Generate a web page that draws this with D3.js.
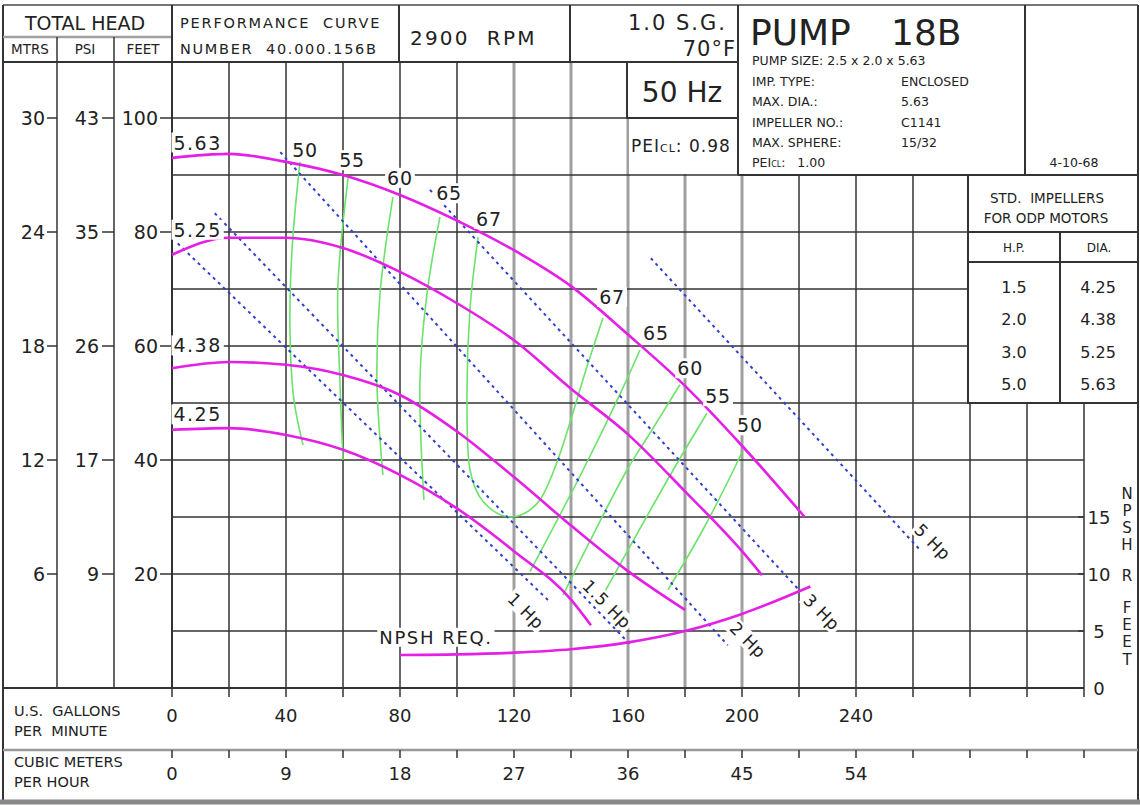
<!DOCTYPE html>
<html><head><meta charset="utf-8">
<script src="https://cdn.jsdelivr.net/npm/d3@7"></script>
<style>
body{margin:0;background:#fff;}
svg{display:block;font-family:"DejaVu Sans",Verdana,sans-serif;}
text{white-space:pre;fill:#222;}
</style></head><body>
<svg id="c" width="1140" height="805"></svg>
<script>
// ---------- data ----------
const gpmTicks = [0, 40, 80, 120, 160, 200, 240];
const m3hLabels = ["0", "9", "18", "27", "36", "45", "54"];
const feetTicks = [100, 80, 60, 40, 20];
const mtrsLabels = ["30", "24", "18", "12", "6"];
const psiLabels = ["43", "35", "26", "17", "9"];
const npshTicks = [0, 5, 10, 15];

// impeller head curves: [GPM, feet]
const dia563 = [[0,93],[20,93.7],[40,92.3],[60,90],[80,86.5],[100,82],[120,76.8],[140,70.5],[160,62],[180,53],[200,42.5],[222,30]];
const dia525 = [[0,76],[20,79],[40,79],[60,77.2],[80,73],[100,67.5],[120,61],[140,52.5],[160,44.5],[180,34.5],[200,24],[207,19.8]];
const dia438 = [[0,56.1],[20,57.2],[40,56.7],[60,54.9],[80,51.4],[100,45],[120,37],[140,28.5],[160,20.5],[180,13.7]];
const dia425 = [[0,45.3],[20,45.6],[40,44.4],[60,41.8],[80,37.4],[100,31.5],[120,24],[140,15.5],[147,11]];
const impellerNames = ["5.63", "5.25", "4.38", "4.25"];

// NPSH required: [GPM, feet NPSH]
const npshReq = [[80,2.9],[100,2.95],[120,3.1],[140,3.4],[160,4.0],[180,5.0],[200,6.5],[224,8.9]];

// efficiency contours: [GPM, feet]
const eff50L = [[44.9,92.3],[42.1,76.8],[41.4,62.8],[42.8,50.5],[46,42.6]];
const eff50R = [[200,41.4],[197,38.2],[186,27.5],[174,17.2]];
const eff55L = [[61.8,89.5],[58.2,70.4],[58.9,54],[60,40]];
const eff55R = [[187.7,48.2],[175.8,38.2],[150.2,15.4]];
const eff60L = [[77.5,86.1],[73,69.3],[71.9,54],[74,37.4]];
const eff60R = [[178.2,53.2],[167.7,44.7],[159.6,38.2],[137.2,16.3]];
const eff65L = [[94,82.6],[89.5,69.3],[87,54],[88.4,33]];
const eff65R = [[164.2,59.3],[157.9,52.3],[144.2,38.2],[125.6,20.4]];
const eff67 = [[107.4,79.1],[104.6,66.8],[103.5,50.5],[104.6,38.2],[108,33.5],[113.3,30.9],[118.6,30],[123.9,30.7],[129.1,33],[135,39.5],[146,57],[151.2,64.9]];
const effNames = ["50", "55", "60", "65", "67"];

// motor power lines: [GPM, feet] end points
const hp1 = [[2,78],[132,15.4]];
const hp15 = [[15,83.3],[161,7.5]];
const hp2 = [[38,94],[195,7.5]];
const hp3 = [[90.5,87.4],[220,17.2]];
const hp5 = [[168,75.4],[262.5,24.2]];
const hpNames = ["1 Hp", "1.5 Hp", "2 Hp", "3 Hp", "5 Hp"];

// standard impeller table
const tableHP = ["1.5", "2.0", "3.0", "5.0"];
const tableDia = ["4.25", "4.38", "5.25", "5.63"];

// ---------- scales ----------
const svg = d3.select("#c");
const x = d3.scaleLinear().domain([0, 320]).range([172, 1084]);
const y = d3.scaleLinear().domain([0, 100]).range([688, 118]);
const yN = d3.scaleLinear().domain([0, 25]).range([688, 403]);

const DARK = "#333", GREY = "#a0a0a0";
const MAG = "#e51fe5", GREEN = "#6be36b", BLUE = "#2f3fd0";

const gGrid = svg.append("g");
const gFrame = svg.append("g");
const gCurves = svg.append("g");
const gText = svg.append("g");

function ln(g, x1, y1, x2, y2, color, w) {
  g.append("line").attr("x1", x1).attr("y1", y1).attr("x2", x2).attr("y2", y2)
    .attr("stroke", color || DARK).attr("stroke-width", w || 1.5);
}
function txt(g, s, px, py, size, anchor, extra) {
  const t = g.append("text").attr("x", px).attr("y", py).attr("font-size", size)
    .attr("text-anchor", anchor || "start").text(s);
  if (extra) extra(t);
  return t;
}
function bgLabel(g, s, px, py, size, rot, ls) {
  const gg = g.append("g").attr("transform", `translate(${px},${py}) rotate(${rot || 0})`);
  const t = gg.append("text").attr("x", 0).attr("y", 0).attr("font-size", size)
    .attr("text-anchor", "middle").attr("dominant-baseline", "central").text(s);
  if (ls) t.attr("letter-spacing", ls);
  const b = t.node().getBBox();
  gg.insert("rect", "text").attr("x", b.x - 2).attr("y", b.y + 1).attr("width", b.width + 4)
    .attr("height", b.height - 2).attr("fill", "#fff");
  return gg;
}

// ---------- grid ----------
d3.range(20, 320, 20).forEach(gpm => {
  const px = x(gpm);
  const top = px < 738 ? 62 : (px < 968 ? 175 : 403);
  const grey = gpm >= 120 && gpm <= 200;
  ln(gGrid, px, top, px, 688, grey ? GREY : DARK, grey ? 3 : 1.5);
});
ln(gGrid, x(320), 403, x(320), 688, DARK, 1.5);
d3.range(10, 101, 10).forEach(f => {
  const py = y(f);
  let x2 = f <= 40 ? x(320) : (f <= 80 ? 968 : (f === 90 ? 1138 : 738));
  ln(gGrid, 172, py, x2, py, DARK, 1.5);
});

// ---------- frame ----------
ln(gFrame, 3, 5, 1138, 5, "#777", 2);
ln(gFrame, 3, 5, 3, 801, DARK, 2);
ln(gFrame, 1138, 5, 1138, 801, DARK, 2);
ln(gFrame, 0, 802, 1140, 802, "#888", 5);
ln(gFrame, 3, 62, 738, 62, DARK, 2);
ln(gFrame, 3, 37, 172, 37, GREY, 2.5);
ln(gFrame, 172, 5, 172, 688, DARK, 2);
ln(gFrame, 57, 37, 57, 688, DARK, 1.5);
ln(gFrame, 114, 37, 114, 688, DARK, 1.5);
ln(gFrame, 399, 5, 399, 62, DARK, 2);
ln(gFrame, 570, 5, 570, 62, DARK, 2);
ln(gFrame, 738, 5, 738, 175, DARK, 2);
ln(gFrame, 1025, 5, 1025, 175, DARK, 2);
ln(gFrame, 738, 175, 1138, 175, DARK, 2);
ln(gFrame, 3, 688, x(320), 688, DARK, 2);
ln(gFrame, 3, 750, 1138, 750, "#999", 2.5);
d3.range(0, 321, 20).forEach(gpm => {
  ln(gFrame, x(gpm), 688, x(gpm), 697, DARK, 1.5);
  ln(gFrame, x(gpm), 750, x(gpm), 758, DARK, 1.5);
});
// 50 Hz box & PEI area
gFrame.append("rect").attr("x", 627).attr("y", 62).attr("width", 111).attr("height", 56)
  .attr("fill", "#fff").attr("stroke", DARK).attr("stroke-width", 2);
gFrame.append("rect").attr("x", 629).attr("y", 119).attr("width", 108).attr("height", 55).attr("fill", "#fff");
// table
gFrame.append("rect").attr("x", 968).attr("y", 175).attr("width", 170).attr("height", y(50) - 175)
  .attr("fill", "#fff").attr("stroke", DARK).attr("stroke-width", 2);
ln(gFrame, 968, y(80), 1138, y(80), DARK, 2);
ln(gFrame, 968, 262, 1138, 262, DARK, 2);
ln(gFrame, 1060, y(80), 1060, y(50), DARK, 2);

// axis ticks left
feetTicks.forEach((f, i) => {
  ln(gFrame, 160, y(f), 172, y(f), DARK, 1.5);
  ln(gFrame, 102, y(f), 114, y(f), DARK, 1.5);
  ln(gFrame, 47, y(f), 57, y(f), DARK, 1.5);
});
npshTicks.forEach(n => ln(gFrame, x(320) - 6, yN(n), x(320), yN(n), DARK, 1.5));

// ---------- curves ----------
const lineM = d3.line().x(d => x(d[0])).y(d => y(d[1])).curve(d3.curveMonotoneX);
const lineC = d3.line().x(d => x(d[0])).y(d => y(d[1])).curve(d3.curveCatmullRom.alpha(0.5));
const lineN = d3.line().x(d => x(d[0])).y(d => yN(d[1])).curve(d3.curveMonotoneX);

[eff50L, eff50R, eff55L, eff55R, eff60L, eff60R, eff65L, eff65R, eff67].forEach(e => {
  gCurves.append("path").attr("d", lineC(e)).attr("fill", "none").attr("stroke", GREEN).attr("stroke-width", 1.6);
});
[hp1, hp15, hp2, hp3, hp5].forEach(h => {
  gCurves.append("path").attr("d", d3.line().x(d => x(d[0])).y(d => y(d[1]))(h))
    .attr("fill", "none").attr("stroke", BLUE).attr("stroke-width", 2).attr("stroke-dasharray", "3,4");
});
[dia563, dia525, dia438, dia425].forEach(d => {
  gCurves.append("path").attr("d", lineM(d)).attr("fill", "none").attr("stroke", MAG).attr("stroke-width", 2.6);
});
gCurves.append("path").attr("d", lineN(npshReq)).attr("fill", "none").attr("stroke", MAG).attr("stroke-width", 2.6);

// ---------- text ----------
// header
txt(gText, "TOTAL HEAD", 85, 30, 19, "middle");
txt(gText, "MTRS", 30, 54, 13.5, "middle");
txt(gText, "PSI", 85, 54, 13.5, "middle");
txt(gText, "FEET", 143, 54, 13.5, "middle");
txt(gText, "PERFORMANCE  CURVE", 180, 28, 14.5, "start", t => t.attr("letter-spacing", 1.8));
txt(gText, "NUMBER  40.000.156B", 180, 54, 14.5, "start", t => t.attr("letter-spacing", 1.7));
txt(gText, "2900  RPM", 410, 45, 20, "start", t => t.attr("letter-spacing", 2.2));
txt(gText, "1.0 S.G.", 727, 30, 21, "end", t => t.attr("letter-spacing", 2));
txt(gText, "70°F", 736, 56, 21, "end", t => t.attr("letter-spacing", 1));
txt(gText, "50 Hz", 682, 102, 28, "middle");
const pei = txt(gText, "PEI", 631, 152, 17, "start", t => t.attr("letter-spacing", 1));
pei.append("tspan").attr("font-size", 11).text("CL");
pei.append("tspan").text(": 0.98");

txt(gText, "PUMP", 750, 45, 36, "start");
txt(gText, "18B", 891, 45, 36, "start");
const info = [["PUMP SIZE: 2.5 x 2.0 x 5.63", ""], ["IMP. TYPE:", "ENCLOSED"], ["MAX. DIA.:", "5.63"],
  ["IMPELLER NO.:", "C1141"], ["MAX. SPHERE:", "15/32"]];
info.forEach((r, i) => {
  txt(gText, r[0], 752, 65 + i * 20.5, 12.5, "start");
  if (r[1]) txt(gText, r[1], 901, 65 + i * 20.5, 12.5, "start");
});
const pei2 = txt(gText, "PEI", 752, 167, 12.5, "start");
pei2.append("tspan").attr("font-size", 8).text("CL");
pei2.append("tspan").text(":   1.00");
txt(gText, "4-10-68", 1074, 167, 12.5, "middle");

// table
txt(gText, "STD.  IMPELLERS", 1047, 203, 13.5, "middle");
txt(gText, "FOR ODP MOTORS", 1046, 223, 13.5, "middle");
txt(gText, "H.P.", 1014, 252, 12, "middle");
txt(gText, "DIA.", 1099, 252, 12, "middle");
tableHP.forEach((h, i) => {
  txt(gText, h, 1014, 293 + i * 32.3, 16, "middle");
  txt(gText, tableDia[i], 1098, 293 + i * 32.3, 16, "middle");
});

// left axis labels
feetTicks.forEach((f, i) => {
  txt(gText, String(f), 158, y(f) + 7, 19, "end");
  txt(gText, psiLabels[i], 99, y(f) + 7, 19, "end");
  txt(gText, mtrsLabels[i], 45, y(f) + 7, 19, "end");
});
// bottom axis labels
txt(gText, "U.S.  GALLONS", 14, 716, 14.5, "start");
txt(gText, "PER  MINUTE", 14, 736, 14.5, "start");
txt(gText, "CUBIC METERS", 14, 767, 14.5, "start");
txt(gText, "PER HOUR", 14, 787, 14.5, "start");
gpmTicks.forEach((g, i) => {
  txt(gText, String(g), x(g), 722, 18, "middle");
  txt(gText, m3hLabels[i], x(g), 780, 18, "middle");
});
// right NPSH axis
npshTicks.forEach(n => txt(gText, String(n), 1099, yN(n) + 7, 18, "middle"));
const npshLetters = ["N", "P", "S", "H", "R", "", "F", "E", "E", "T"];
const npshY = [493, 510, 527, 544, 575, 0, 607, 624, 641, 659];
npshLetters.forEach((c, i) => { if (c) txt(gText, c, 1127, npshY[i] + 6, 15, "middle"); });

// curve labels
const diaLabelPos = [[9, 95.7], [9, 80.4], [9, 60.1], [9, 48]];
impellerNames.forEach((n, i) => bgLabel(gText, n, x(diaLabelPos[i][0]), y(diaLabelPos[i][1]), 19, 0, 1.5));
const effTopPos = [[46.7, 94.4], [63.2, 92.6], [80, 89.5], [97.2, 86.8], [111.2, 82.3]];
const effRightPos = [[154.4, 68.6], [169.8, 62.3], [181.8, 56.1], [191.6, 51.2], [202.8, 46.1]];
effNames.forEach((n, i) => {
  bgLabel(gText, n, x(effTopPos[i][0]), y(effTopPos[i][1]), 19, 0, 0.8);
  bgLabel(gText, n, x(effRightPos[4 - i][0]), y(effRightPos[4 - i][1]), 19, 0, 0.8);
});
bgLabel(gText, "NPSH REQ.", x(92.6), yN(4.45), 18, 0, 1.6);
const hpLabelPos = [[124.2, 13.5], [152.6, 14.7], [202.1, 8.4], [228, 13.3], [266.9, 25.6]];
hpNames.forEach((n, i) => bgLabel(gText, n, x(hpLabelPos[i][0]), y(hpLabelPos[i][1]), 17, 45, 0.8));
</script>
</body></html>
